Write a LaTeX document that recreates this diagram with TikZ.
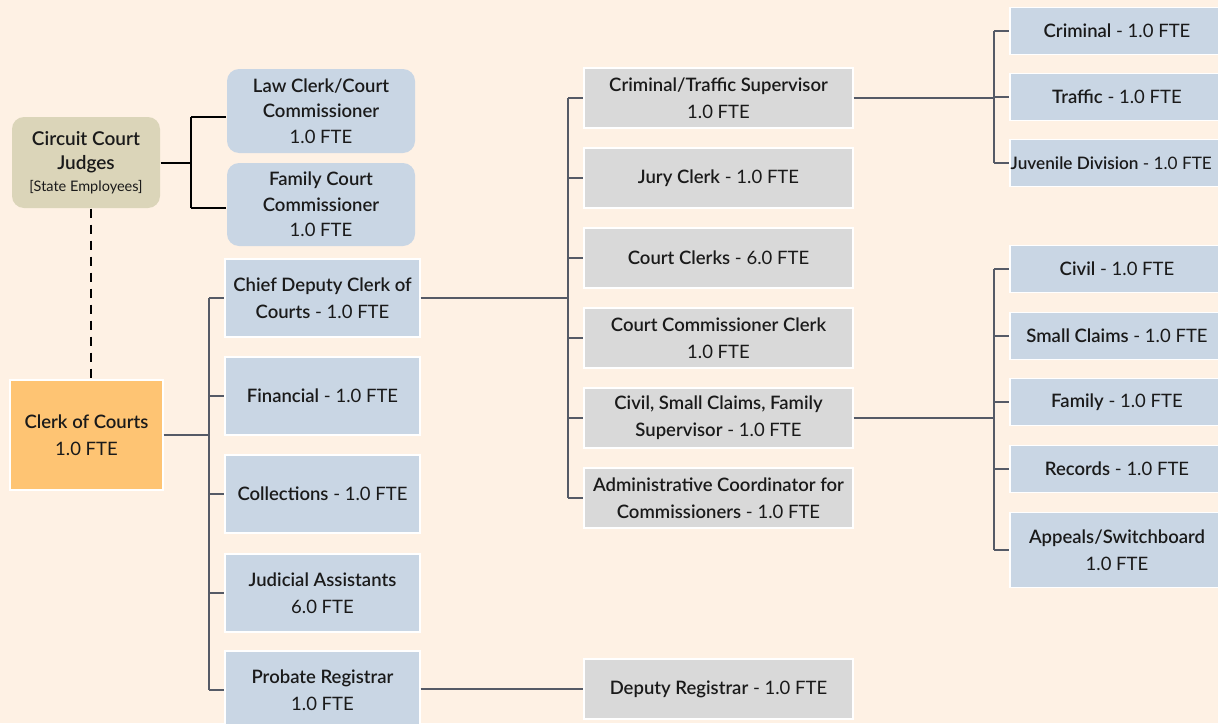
\documentclass[tikz,border=0pt]{standalone}
\usepackage{fontspec}
\setmainfont{Lato}[BoldFont={Lato Semibold}]
\definecolor{bg}{HTML}{FEF1E4}
\definecolor{tan}{HTML}{DBD5B9}
\definecolor{bluebox}{HTML}{C9D6E4}
\definecolor{greybox}{HTML}{D9D9D9}
\definecolor{orangebox}{HTML}{FEC473}
\definecolor{conncol}{HTML}{555A66}
\definecolor{txt}{HTML}{1A1A1A}
\tikzset{
  box/.style={rectangle, draw=white, line width=1.2pt, align=center, inner sep=0pt, text=txt,
              font=\fontsize{18.5}{27}\selectfont},
  blue/.style={box, fill=bluebox},
  grey/.style={box, fill=greybox},
  rbox/.style={box, rounded corners=12pt, draw=none},
  conn/.style={draw=conncol, line width=2.2pt},
  bconn/.style={draw=black, line width=2pt},
}
\begin{document}
\begin{tikzpicture}[x=1pt,y=-1pt]
\clip (0,0) rectangle (1218,723);
\fill[bg] (0,0) rectangle (1218,723);

% top left
\node[rbox, fill=tan, minimum width=148, minimum height=91, font=\fontsize{19}{24}\selectfont] (judges) at (86,162.5)
  {\textbf{Circuit Court}\\\textbf{Judges}\\[-2pt]{\fontsize{14.5}{17}\selectfont [State Employees]}};
\node[rbox, fill=bluebox, minimum width=188, minimum height=84, font=\fontsize{18.5}{25.5}\selectfont] (lawclerk) at (321,111)
  {\textbf{Law Clerk/Court}\\\textbf{Commissioner}\\1.0 FTE};
\node[rbox, fill=bluebox, minimum width=188, minimum height=83, font=\fontsize{18.5}{25.5}\selectfont] (famcomm) at (321,204.5)
  {\textbf{Family Court}\\\textbf{Commissioner}\\1.0 FTE};

% clerk
\node[box, fill=orangebox, minimum width=153, minimum height=110] (clerk) at (86.5,435)
  {\textbf{Clerk of Courts}\\1.0 FTE};

% left column
\node[blue, minimum width=195, minimum height=78] (chief) at (322.5,298) {\textbf{Chief Deputy Clerk of}\\\textbf{Courts} - 1.0 FTE};
\node[blue, minimum width=195, minimum height=78] (financial) at (322.5,396) {\textbf{Financial} - 1.0 FTE};
\node[blue, minimum width=195, minimum height=78] (collections) at (322.5,494) {\textbf{Collections} - 1.0 FTE};
\node[blue, minimum width=195, minimum height=78] (judicial) at (322.5,593) {\textbf{Judicial Assistants}\\6.0 FTE};
\node[blue, minimum width=195, minimum height=78] (probate) at (322.5,690) {\textbf{Probate Registrar}\\1.0 FTE};

% middle column
\node[grey, minimum width=269, minimum height=60] (crimsup) at (718.5,98) {\textbf{Criminal/Traffic Supervisor}\\1.0 FTE};
\node[grey, minimum width=269, minimum height=60] (jury) at (718.5,178) {\textbf{Jury Clerk} - 1.0 FTE};
\node[grey, minimum width=269, minimum height=60] (courtclerks) at (718.5,258) {\textbf{Court Clerks} - 6.0 FTE};
\node[grey, minimum width=269, minimum height=60] (ccclerk) at (718.5,338) {\textbf{Court Commissioner Clerk}\\1.0 FTE};
\node[grey, minimum width=269, minimum height=60] (civsup) at (718.5,418) {\textbf{Civil, Small Claims, Family}\\\textbf{Supervisor} - 1.0 FTE};
\node[grey, minimum width=269, minimum height=60] (admin) at (718.5,498) {\textbf{Administrative Coordinator for}\\\textbf{Commissioners} - 1.0 FTE};
\node[grey, minimum width=269, minimum height=60] (deputy) at (718.5,689) {\textbf{Deputy Registrar} - 1.0 FTE};

% right column
\node[blue, minimum width=214, minimum height=47] (criminal) at (1117,31) {\textbf{Criminal} - 1.0 FTE};
\node[blue, minimum width=214, minimum height=47] (traffic) at (1117,97) {\textbf{Traffic} - 1.0 FTE};
\node[blue, minimum width=214, minimum height=47] (juvenile) at (1117,163) {};
\node[anchor=west, inner sep=0pt, text=txt, font=\fontsize{17.2}{27}\selectfont] (juvtext) at (1010.5,163) {\textbf{Juvenile Division} - 1.0 FTE};
\node[blue, minimum width=214, minimum height=47] (civil) at (1117,269) {\textbf{Civil} - 1.0 FTE};
\node[blue, minimum width=214, minimum height=47] (small) at (1117,336) {\textbf{Small Claims} - 1.0 FTE};
\node[blue, minimum width=214, minimum height=47] (family) at (1117,402) {\textbf{Family} - 1.0 FTE};
\node[blue, minimum width=214, minimum height=47] (records) at (1117,469) {\textbf{Records} - 1.0 FTE};
\node[blue, minimum width=214, minimum height=75] (appeals) at (1117,550) {\textbf{Appeals/Switchboard}\\1.0 FTE};

% bus coordinates
\coordinate (busJ) at (191,0);
\coordinate (busA) at (209,0);
\coordinate (busB) at (568,0);
\coordinate (busC) at (994,0);

% judges connectors
\draw[bconn] (judges.east) -- (judges.east -| busJ);
\draw[bconn] ([yshift=-6pt]lawclerk.west -| busJ) -- ([yshift=-3.5pt]famcomm.west -| busJ);
\draw[bconn] ([yshift=-6pt]lawclerk.west -| busJ) -- ([yshift=-6pt]lawclerk.west);
\draw[bconn] ([yshift=-3.5pt]famcomm.west -| busJ) -- ([yshift=-3.5pt]famcomm.west);
\draw[black, line width=2.2pt, dash pattern=on 9pt off 7pt] ([xshift=5pt]judges.south) -- ([xshift=4.5pt]clerk.north);

% clerk connectors
\draw[conn] (clerk.east) -- (clerk.east -| busA);
\draw[conn] (chief.west -| busA) -- (probate.west -| busA);
\foreach \n in {chief,financial,collections,judicial,probate}
  \draw[conn, line width=1.6pt] (\n.west -| busA) -- (\n.west);

% chief deputy connectors
\draw[conn] (chief.east) -- (chief.east -| busB);
\draw[conn] (crimsup.west -| busB) -- (admin.west -| busB);
\foreach \n in {crimsup,jury,courtclerks,ccclerk,civsup,admin}
  \draw[conn, line width=1.6pt] (\n.west -| busB) -- (\n.west);

% probate -> deputy
\draw[conn, line width=1.6pt] (deputy.west -| probate.east) -- (deputy.west);

% criminal/traffic supervisor
\draw[conn] (crimsup.east) -- (crimsup.east -| busC);
\draw[conn] (criminal.west -| busC) -- (juvenile.west -| busC);
\foreach \n in {criminal,traffic,juvenile}
  \draw[conn, line width=1.6pt] (\n.west -| busC) -- (\n.west);

% civil supervisor
\draw[conn] (civsup.east) -- (civsup.east -| busC);
\draw[conn] (civil.west -| busC) -- (appeals.west -| busC);
\foreach \n in {civil,small,family,records,appeals}
  \draw[conn, line width=1.6pt] (\n.west -| busC) -- (\n.west);
\end{tikzpicture}
\end{document}
